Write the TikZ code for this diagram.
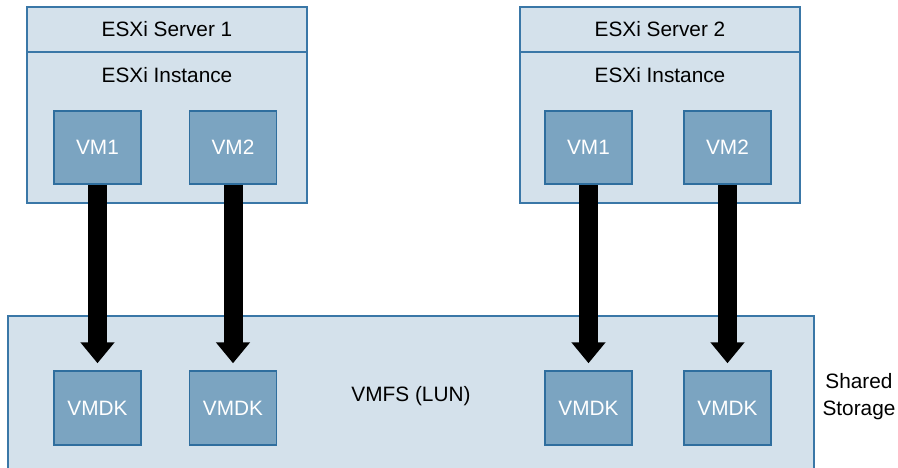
\documentclass[tikz,border=0pt]{standalone}
\usepackage{fontspec}
\setmainfont{Liberation Sans}
\usetikzlibrary{arrows.meta}
\definecolor{lightfill}{HTML}{D4E1EB}
\definecolor{frame}{HTML}{3A77A7}
\definecolor{vmfill}{HTML}{7BA4C1}
\definecolor{vmframe}{HTML}{2F6E9E}
\begin{document}
\begin{tikzpicture}[x=1pt,y=-1pt,
  font=\fontsize{20.8}{27}\selectfont,
  panel/.style={draw=frame, fill=lightfill, line width=1.5pt, inner sep=0pt, rectangle},
  vmbox/.style={draw=vmframe, fill=vmfill, line width=1.5pt, text=white,
    minimum width=87pt, minimum height=73pt, inner sep=0pt},
  bigarrow/.style={line width=19pt, -{Triangle[length=21pt 0 0,width=33pt 0 0]}},
  lbl/.style={inner sep=0pt, text=black}]
\useasboundingbox (0,0) rectangle (898,467);
% storage
\node[panel, minimum width=806pt, minimum height=160pt] (store) at (411,396) {};
\node[lbl] (vmfs) at (411,396) {VMFS (LUN)};
\node[lbl, align=center] (shared) at (859,397) {Shared\\Storage};
% server 1
\node[panel, minimum width=280pt, minimum height=151pt] (s1body) at (167,127.5) {};
\node[panel, minimum width=280pt, minimum height=45pt] (s1head) at (167,29.5) {ESXi Server 1};
\node[lbl] (s1inst) at (167,75) {ESXi Instance};
\node[vmbox] (s1vm1) at (97.5,147.5) {VM1};
\node[vmbox] (s1vm2) at (233,147.5) {VM2};
% server 2
\node[panel, minimum width=280pt, minimum height=151pt] (s2body) at (660,127.5) {};
\node[panel, minimum width=280pt, minimum height=45pt] (s2head) at (660,29.5) {ESXi Server 2};
\node[lbl] (s2inst) at (660,75) {ESXi Instance};
\node[vmbox] (s2vm1) at (588.5,147.5) {VM1};
\node[vmbox] (s2vm2) at (727.5,147.5) {VM2};
% disks
\node[vmbox, minimum height=74pt] (d1) at (97.5,408) {VMDK};
\node[vmbox, minimum height=74pt] (d2) at (233,408) {VMDK};
\node[vmbox, minimum height=74pt] (d3) at (588.5,408) {VMDK};
\node[vmbox, minimum height=74pt] (d4) at (727.5,408) {VMDK};
% arrows
\draw[bigarrow] (s1vm1.south) -- ([yshift=7pt]d1.north);
\draw[bigarrow] (s1vm2.south) -- ([yshift=7pt]d2.north);
\draw[bigarrow] (s2vm1.south) -- ([yshift=7pt]d3.north);
\draw[bigarrow] (s2vm2.south) -- ([yshift=7pt]d4.north);
\end{tikzpicture}
\end{document}
